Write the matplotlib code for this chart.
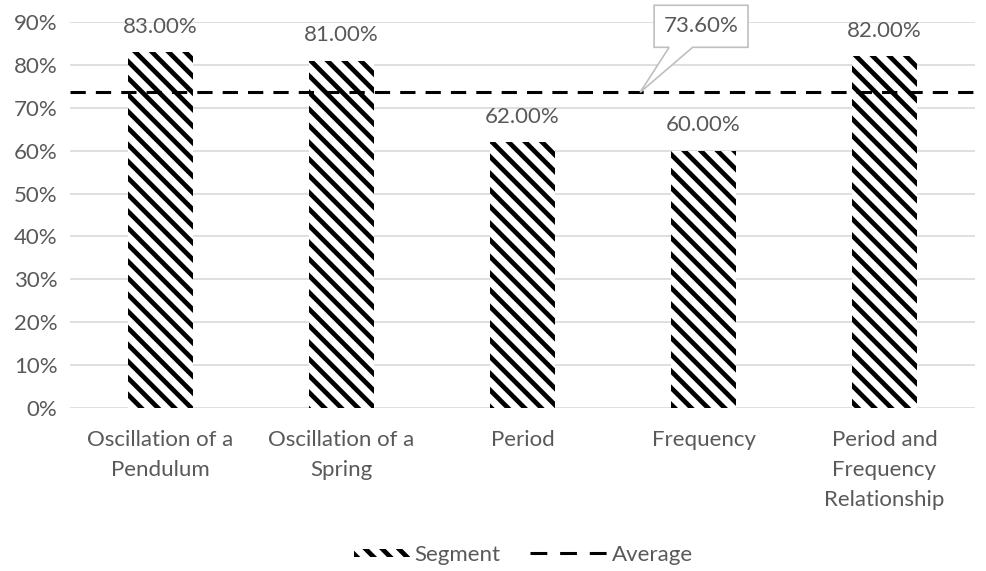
import matplotlib
matplotlib.use("Agg")
import matplotlib.pyplot as plt
from matplotlib.patches import Polygon, Patch, Rectangle
from matplotlib.lines import Line2D
from matplotlib.legend_handler import HandlerPatch

# Scores per topic (percent)
categories = [
    "Oscillation of a\nPendulum",
    "Oscillation of a\nSpring",
    "Period",
    "Frequency",
    "Period and\nFrequency\nRelationship",
]
segment = [83.0, 81.0, 62.0, 60.0, 82.0]
average = 73.6
yticks = [0, 10, 20, 30, 40, 50, 60, 70, 80, 90]

GRAY = "#595959"
FS = 16
HATCH = "\\\\"
plt.rcParams["font.family"] = ["Lato", "DejaVu Sans"]
plt.rcParams["hatch.linewidth"] = 3.4

fig = plt.figure(figsize=(9.87, 5.71), dpi=100)
ax = fig.add_axes([70 / 987, 1 - 408 / 571, 905 / 987, 386 / 571])

x = list(range(len(categories)))
bars = ax.bar(x, segment, width=0.36, facecolor="white", edgecolor="black",
              linewidth=0, hatch=HATCH, zorder=3)

# average line across the whole plot
avg_line, = ax.plot([-0.5, len(categories) - 0.5], [average, average],
                    color="black", lw=2.2, zorder=4)
avg_line.set_dashes((5, 3.3))

# value labels over the bars
for xi, v in zip(x, segment):
    ax.annotate(f"{v:.2f}%", (xi, v), xytext=(0, 11), textcoords="offset points",
                ha="center", va="bottom", fontsize=FS, color=GRAY)

# callout for the average
tip_x = 2.65
bl, br = 2.727, 3.246
b_lo, b_hi = average + 10.5, average + 20.3
callout = Polygon([(bl, b_lo), (2.81, b_lo), (tip_x, average), (2.94, b_lo),
                   (br, b_lo), (br, b_hi), (bl, b_hi)],
                  closed=True, facecolor="white", edgecolor="#bfbfbf", lw=1.2,
                  zorder=5, clip_on=False)
ax.add_patch(callout)
ax.text((bl + br) / 2, (b_lo + b_hi) / 2, f"{average:.2f}%", ha="center",
        va="center", fontsize=FS, color=GRAY, zorder=6)

ax.set_xlim(-0.5, len(categories) - 0.5)
ax.set_ylim(0, 90)
ax.set_yticks(yticks)
ax.set_yticklabels([f"{t}%" for t in yticks])
ax.set_xticks(x)
ax.set_xticklabels(categories, linespacing=1.62)
ax.tick_params(axis="both", length=0, labelsize=FS, colors=GRAY)
ax.tick_params(axis="x", pad=16)
ax.tick_params(axis="y", pad=9)
ax.grid(axis="y", color="#d9d9d9", lw=1.2, zorder=0)
for s in ax.spines.values():
    s.set_visible(False)


def short_swatch(legend, orig_handle, xdescent, ydescent, width, height, fontsize):
    # narrow, flat hatch swatch placed at the right of the handle box
    w = width * 0.73
    h = height * 0.5
    return Rectangle((width - w - xdescent, -ydescent + (height - h) / 2), w, h)


handles = [Patch(facecolor="white", edgecolor="black", linewidth=0, hatch=HATCH),
           Line2D([0], [0], color="black", lw=2.2, dashes=(5.5, 4.2))]
fig.legend(handles, ["Segment", "Average"], loc="center", ncol=2,
           bbox_to_anchor=(513 / 987, 1 - 555 / 571), frameon=False, fontsize=FS,
           labelcolor=GRAY, handlelength=3.47, handleheight=0.7,
           columnspacing=1.35, handletextpad=0.2,
           handler_map={Patch: HandlerPatch(patch_func=short_swatch)})

fig.savefig("out.png", dpi=100)
